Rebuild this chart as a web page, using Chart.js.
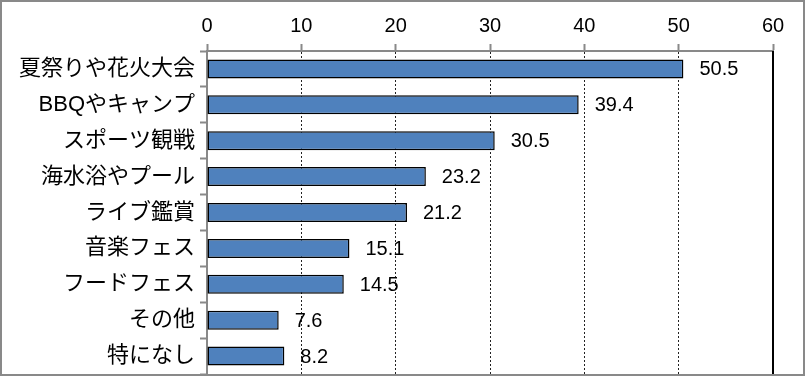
<!DOCTYPE html>
<html>
<head>
<meta charset="utf-8">
<script src="https://cdn.jsdelivr.net/npm/chart.js@4"></script>
<style>
  body { margin: 0; background: #fff; }
  #wrap { width: 801px; height: 372px; border: 2px solid #898989; }
  canvas { display: block; }
</style>
</head>
<body>
<div id="wrap"><canvas id="chart" width="801" height="372"></canvas></div>
<script>
// Chart data
const categories = ['夏祭りや花火大会', 'BBQやキャンプ', 'スポーツ観戦', '海水浴やプール', 'ライブ鑑賞', '音楽フェス', 'フードフェス', 'その他', '特になし'];
const values = [50.5, 39.4, 30.5, 23.2, 21.2, 15.1, 14.5, 7.6, 8.2];
const axisMin = 0;
const axisMax = 60;
const axisStep = 10;

const AXIS_GRAY = '#898989';
const FONT_FAMILY = '"Liberation Sans", "Noto Sans CJK JP", sans-serif';

// Draws the value next to the end of each bar, and the solid line at the max tick
const extrasPlugin = {
  id: 'extras',
  afterDatasetsDraw(chart) {
    const ctx = chart.ctx;
    const xScale = chart.scales.x;
    const area = chart.chartArea;

    // solid right edge line
    const xr = xScale.getPixelForValue(axisMax);
    ctx.save();
    ctx.strokeStyle = '#000';
    ctx.lineWidth = 2;
    ctx.beginPath();
    ctx.moveTo(xr, area.top);
    ctx.lineTo(xr, area.bottom + 2);
    ctx.stroke();
    ctx.restore();

    // value labels
    const meta = chart.getDatasetMeta(0);
    ctx.save();
    ctx.fillStyle = '#000';
    ctx.font = '20px ' + FONT_FAMILY;
    ctx.textAlign = 'left';
    ctx.textBaseline = 'middle';
    meta.data.forEach((bar, i) => {
      ctx.fillText(values[i].toFixed(1), bar.x + 16, bar.y + 1);
    });
    ctx.restore();
  }
};

new Chart(document.getElementById('chart').getContext('2d'), {
  type: 'bar',
  data: {
    labels: categories,
    datasets: [{
      data: values,
      backgroundColor: '#4F81BD',
      borderColor: '#000',
      borderWidth: 1.5,
      borderSkipped: false,
      barPercentage: 0.53,
      categoryPercentage: 1
    }]
  },
  options: {
    indexAxis: 'y',
    responsive: false,
    animation: false,
    devicePixelRatio: 1,
    layout: { autoPadding: false, padding: { left: 0, right: 30, top: 0, bottom: 0 } },
    plugins: {
      legend: { display: false },
      tooltip: { enabled: false }
    },
    scales: {
      x: {
        position: 'top',
        min: axisMin,
        max: axisMax,
        afterFit: (scale) => { scale.height = 49; },
        ticks: {
          stepSize: axisStep,
          padding: 6,
          color: '#000',
          font: { family: FONT_FAMILY, size: 20 }
        },
        grid: {
          color: (c) => (c.tick && (c.tick.value === axisMin || c.tick.value === axisMax)) ? 'rgba(0,0,0,0)' : '#222',
          lineWidth: 1,
          tickLength: 7,
          tickColor: AXIS_GRAY,
          tickWidth: 2,
          tickBorderDash: []
        },
        border: { color: AXIS_GRAY, width: 2, dash: [2, 2] }
      },
      y: {
        afterFit: (scale) => {
          scale.width = 205;
          // let the category band reach the bottom edge like the original
          scale.paddingTop = 0;
          scale.paddingBottom = 0;
        },
        ticks: {
          padding: 5,
          color: '#000',
          font: { family: FONT_FAMILY, size: 22 }
        },
        grid: {
          offset: true,
          drawOnChartArea: false,
          tickLength: 7,
          tickColor: AXIS_GRAY,
          tickWidth: 2
        },
        border: { color: AXIS_GRAY, width: 2 }
      }
    }
  },
  plugins: [extrasPlugin]
});
</script>
</body>
</html>
